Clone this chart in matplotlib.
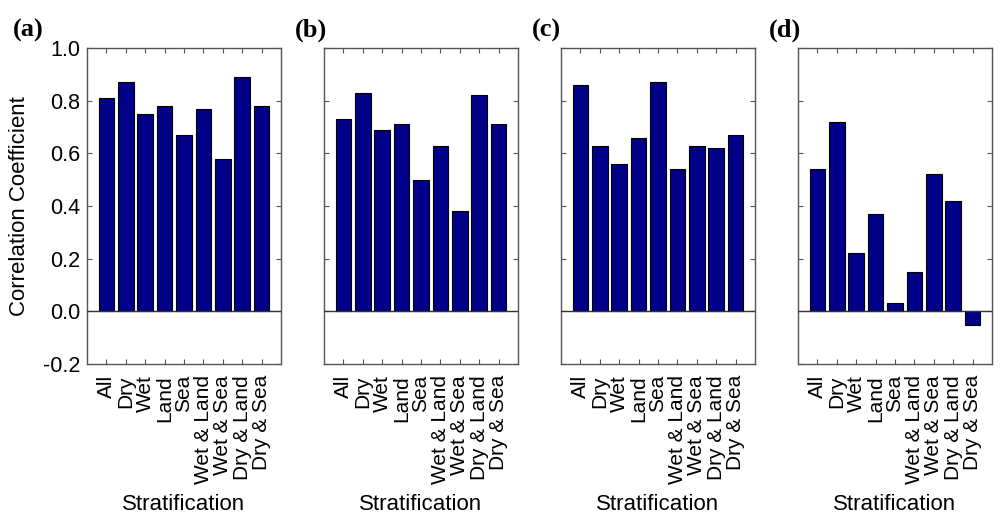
import numpy as np
import matplotlib.pyplot as plt

categories = ["All", "Dry", "Wet", "Land", "Sea",
              "Wet & Land", "Wet & Sea", "Dry & Land", "Dry & Sea"]
corr_a = [0.81, 0.87, 0.75, 0.78, 0.67, 0.77, 0.58, 0.89, 0.78]
corr_b = [0.73, 0.83, 0.69, 0.71, 0.50, 0.63, 0.38, 0.82, 0.71]
corr_c = [0.86, 0.63, 0.56, 0.66, 0.87, 0.54, 0.63, 0.62, 0.67]
corr_d = [0.54, 0.72, 0.22, 0.37, 0.03, 0.15, 0.52, 0.42, -0.05]
panel_tags = ["(a)", "(b)", "(c)", "(d)"]
yticks = [-0.2, 0.0, 0.2, 0.4, 0.6, 0.8, 1.0]

plt.rcParams['font.family'] = ['Liberation Sans', 'DejaVu Sans']

fig = plt.figure(figsize=(10.03, 5.23), dpi=100)
x = np.arange(1, len(categories) + 1)
axcol = '#555555'

for i, vals in enumerate([corr_a, corr_b, corr_c, corr_d]):
    ax = fig.add_axes([0.0867 + i * 0.2363, 0.304, 0.1934, 0.604])
    ax.bar(x, vals, width=0.8, color='#000088', edgecolor='black', linewidth=0.8, zorder=2)
    ax.axhline(0, color='#333333', linewidth=1.0, zorder=3)
    ax.set_xlim(0, 10)
    ax.set_ylim(-0.2, 1.0)
    ax.set_xticks(x)
    ax.set_xticklabels(categories, rotation=90, fontsize=15)
    ax.set_yticks(yticks)
    ax.tick_params(direction='in', top=True, right=True, length=3.5,
                   width=0.8, color=axcol)
    ax.tick_params(axis='x', pad=8)
    ax.tick_params(axis='y', pad=5)
    if i == 0:
        ax.set_yticklabels([f"{v:.1f}" for v in yticks], fontsize=15.5)
        ax.set_ylabel("Correlation Coefficient", fontsize=16, labelpad=9)
    else:
        ax.set_yticklabels([])
    ax.set_xlabel("Stratification", fontsize=16, labelpad=7)
    for s in ax.spines.values():
        s.set_color(axcol)
        s.set_linewidth(1.0)
    ax.text(-0.38 if i == 0 else -0.15, 1.02, panel_tags[i], transform=ax.transAxes,
            fontsize=19, fontweight='bold', family='Liberation Serif',
            ha='left', va='bottom')

fig.savefig("out.png", dpi=100)
